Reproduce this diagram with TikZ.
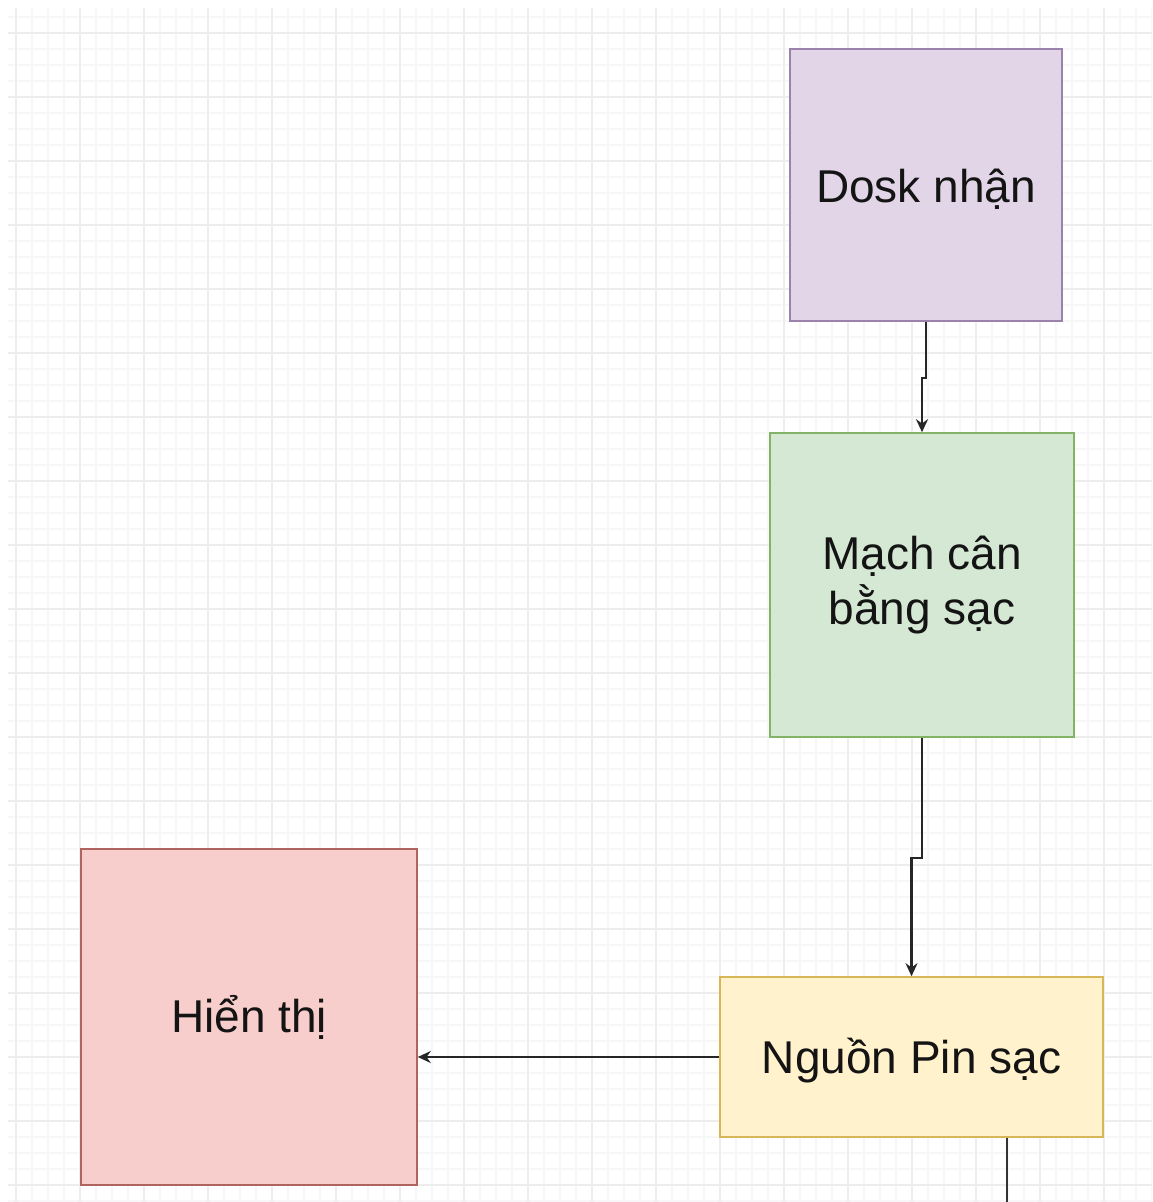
\documentclass[tikz,border=0pt]{standalone}
\usepackage{fontspec}
\setmainfont{Liberation Sans}
\usetikzlibrary{arrows.meta}
\definecolor{gridminor}{HTML}{F7F7F7}
\definecolor{gridmajor}{HTML}{EDEDED}
\definecolor{purplefill}{HTML}{E1D5E7}
\definecolor{purpleline}{HTML}{9A82AA}
\definecolor{greenfill}{HTML}{D5E8D4}
\definecolor{greenline}{HTML}{82B366}
\definecolor{yellowfill}{HTML}{FFF2CC}
\definecolor{yellowline}{HTML}{D6B656}
\definecolor{redfill}{HTML}{F8CECC}
\definecolor{redline}{HTML}{B0645F}
% lower a label a little while keeping its box size
\newcommand{\lowered}[1]{\raisebox{-4pt}[\height][\depth]{#1}}
\begin{document}
\begin{tikzpicture}[x=1pt,y=-1pt,
  box/.style={draw, line width=1.6pt, inner sep=0pt, align=center,
    font=\fontsize{46}{55}\selectfont, text=black!92},
  link/.style={draw=black!85, line width=2.2pt, -{Stealth[length=13pt,width=12pt]}},
  plainlink/.style={draw=black!80, line width=2.2pt}]
  % page and grid
  \useasboundingbox (0,0) rectangle (1152,1202);
  \fill[white] (0,0) rectangle (1152,1202);
  \begin{scope}
    \clip (8,8) rectangle (1152,1202);
    \foreach \gx in {0,16,...,1152} \draw[gridminor, line width=1.2pt] (\gx,8) -- (\gx,1202);
    \foreach \gy in {1,17,...,1202} \draw[gridminor, line width=1.2pt] (8,\gy) -- (1152,\gy);
    \foreach \gx in {16,80,...,1152} \draw[gridmajor, line width=1.6pt] (\gx,8) -- (\gx,1202);
    \foreach \gy in {33,97,...,1202} \draw[gridmajor, line width=1.6pt] (8,\gy) -- (1152,\gy);
  \end{scope}
  % blocks
  \node[box, fill=purplefill, draw=purpleline, minimum width=272pt, minimum height=272pt]
    (dosk) at (926,185) {\lowered{Dosk nhận}};
  \node[box, fill=greenfill, draw=greenline, minimum width=304pt, minimum height=304pt]
    (mach) at (922,585) {Mạch cân\\bằng sạc};
  \node[box, fill=yellowfill, draw=yellowline, minimum width=383pt, minimum height=160pt]
    (pin) at (911.5,1057) {\lowered{Nguồn Pin sạc}};
  \node[box, fill=redfill, draw=redline, minimum width=336pt, minimum height=336pt]
    (hien) at (249,1017) {Hiển thị};
  \coordinate (out) at (1007,1202);
  % connectors
  \draw[link] (dosk.south) -- ++(0,56) -| (mach.north);
  \draw[link] (mach.south) -- ++(0,120) -| (pin.north);
  \draw[link] (pin.west) -- (hien.east |- pin.west);
  \draw[plainlink] (pin.south -| out) -- (out);
\end{tikzpicture}
\end{document}
